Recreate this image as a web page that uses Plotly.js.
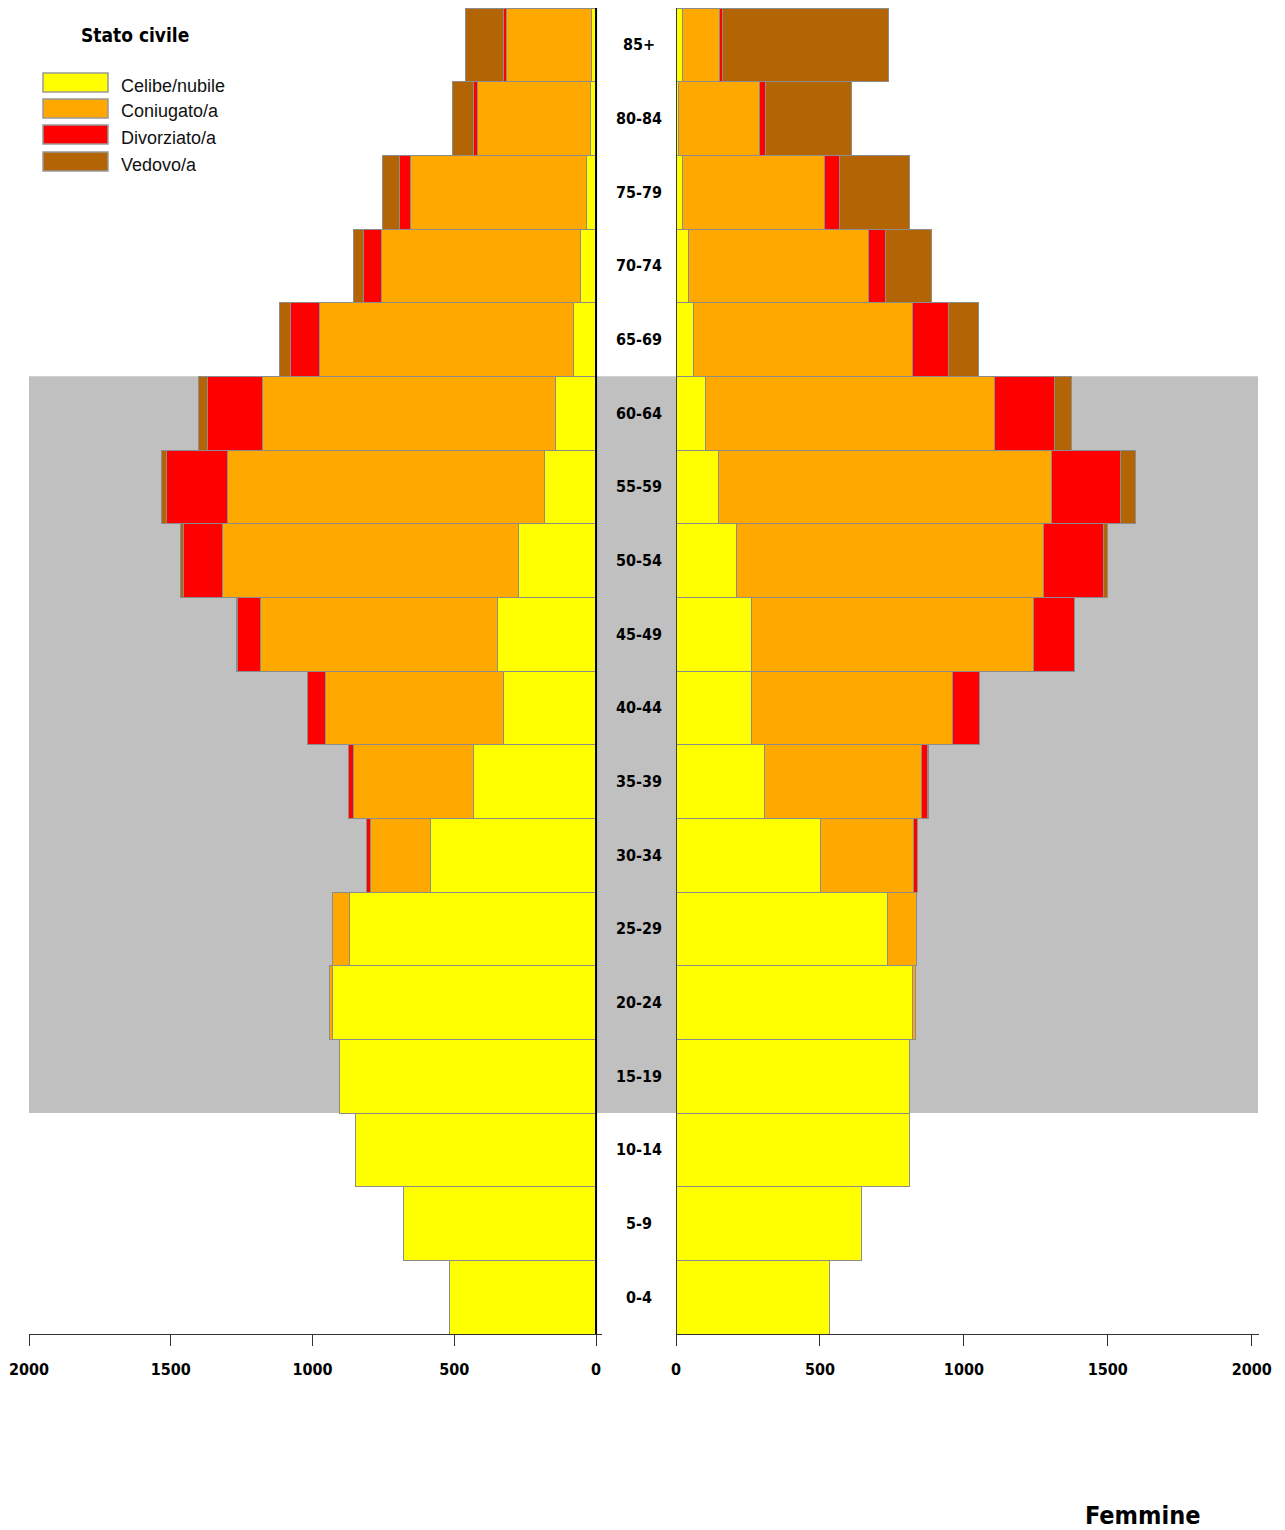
<!DOCTYPE html>
<html>
<head>
<meta charset="utf-8">
<script src="https://cdn.plot.ly/plotly-3.0.1.min.js"></script>
<style>html,body{margin:0;padding:0;background:#fff}#chart{width:1285px;height:1530px}</style>
</head>
<body>
<div id="chart"></div>
<script>
// ---- data ----
const ages = ['0-4','5-9','10-14','15-19','20-24','25-29','30-34','35-39','40-44','45-49','50-54','55-59','60-64','65-69','70-74','75-79','80-84','85+'];
const seriesNames = ['Celibe/nubile','Coniugato/a','Divorziato/a','Vedovo/a'];
const seriesColors = ['#FFFF00','#FFA800','#FF0000','#B36404'];
const maschiCelibi     = [516, 678, 847, 905, 930, 871, 584, 431, 326, 348, 273, 182, 142, 79, 55, 33, 19, 15];
const maschiConiugati  = [0, 0, 0, 0, 11, 57, 212, 426, 630, 837, 1044, 1117, 1035, 895, 702, 620, 400, 300];
const maschiDivorziati = [0, 0, 0, 0, 0, 3, 12, 16, 62, 81, 138, 216, 194, 103, 62, 40, 12, 12];
const maschiVedovi     = [0, 0, 0, 0, 0, 0, 1, 1, 0, 2, 9, 17, 32, 38, 38, 61, 75, 133];
const femmineNubili     = [533, 643, 812, 812, 823, 733, 501, 307, 263, 263, 209, 147, 102, 61, 44, 22, 10, 22];
const femmineConiugate  = [0, 0, 0, 0, 8, 101, 323, 544, 698, 979, 1067, 1158, 1006, 760, 624, 494, 279, 130];
const femmineDivorziate = [0, 0, 0, 0, 0, 2, 14, 24, 93, 141, 208, 238, 208, 127, 61, 53, 23, 8];
const femmineVedove     = [0, 0, 0, 0, 0, 0, 0, 1, 0, 2, 16, 52, 58, 103, 160, 241, 298, 579];
const tickValues = [0, 500, 1000, 1500, 2000];
const highlightFrom = '15-19', highlightTo = '60-64';
const legendTitle = 'Stato civile';
const rightTitle = 'Femmine';

// ---- layout helpers ----
const W = 1285, H = 1530;
const px = v => v / W;
const py = v => 1 - v / H;
const condensed = '"DejaVu Sans Condensed", "Liberation Sans Narrow", "Arial Narrow", sans-serif';
const regular = '"Liberation Sans", Arial, sans-serif';
const border = {color: '#8c8c8c', width: 1};

const maschi = [maschiCelibi, maschiConiugati, maschiDivorziati, maschiVedovi];
const femmine = [femmineNubili, femmineConiugate, femmineDivorziate, femmineVedove];

const traces = [];
maschi.forEach((vals, i) => traces.push({
  type: 'bar', orientation: 'h', x: vals, y: ages, xaxis: 'x', yaxis: 'y',
  name: seriesNames[i], marker: {color: seriesColors[i], line: border},
  showlegend: false, hoverinfo: 'x+y+name'
}));
femmine.forEach((vals, i) => traces.push({
  type: 'bar', orientation: 'h', x: vals, y: ages, xaxis: 'x2', yaxis: 'y',
  name: seriesNames[i], marker: {color: seriesColors[i], line: border},
  showlegend: false, hoverinfo: 'x+y+name'
}));

const tickFont = {family: condensed, size: 16, color: '#000', weight: 'bold'};
const axisCommon = {
  tickvals: tickValues, ticktext: tickValues.map(String),
  ticks: 'outside', ticklen: 11, tickcolor: '#333', tickwidth: 1,
  showline: true, linecolor: '#333', linewidth: 1,
  showgrid: false, zeroline: false, tickfont: tickFont, fixedrange: true,
  anchor: 'y', ticklabelstandoff: 10
};

const iFrom = ages.indexOf(highlightFrom), iTo = ages.indexOf(highlightTo);

const shapes = [
  {type: 'rect', layer: 'below', xref: 'paper', yref: 'y',
   x0: px(29), x1: px(1258), y0: iFrom - 0.5, y1: iTo + 0.5,
   fillcolor: '#C0C0C0', line: {width: 0}},
  {type: 'line', xref: 'x', yref: 'y', x0: 0, x1: 0, y0: -0.5, y1: ages.length - 0.5,
   line: {color: '#000', width: 2}},
  {type: 'line', xref: 'x2', yref: 'y', x0: 0, x1: 0, y0: -0.5, y1: ages.length - 0.5,
   line: {color: '#222', width: 1.5}}
];

const annotations = ages.map(a => ({
  xref: 'paper', yref: 'y', x: px(639), y: a, text: a, showarrow: false,
  xanchor: 'center', yanchor: 'middle', font: {family: condensed, size: 16, color: '#000', weight: 'bold'}
}));

// custom legend
annotations.push({xref: 'paper', yref: 'paper', x: px(135), y: py(35), text: legendTitle,
  showarrow: false, xanchor: 'center', yanchor: 'middle',
  font: {family: condensed, size: 19, color: '#000', weight: 'bold'}});
const legRows = [82.5, 108.5, 134.5, 161.5];
seriesNames.forEach((n, i) => {
  shapes.push({type: 'rect', xref: 'paper', yref: 'paper',
    x0: px(43), x1: px(108), y0: py(legRows[i] - 9.5), y1: py(legRows[i] + 9.5),
    fillcolor: seriesColors[i], line: {color: '#999', width: 1.5}});
  annotations.push({xref: 'paper', yref: 'paper', x: px(119), y: py(legRows[i] + 3), text: n,
    showarrow: false, xanchor: 'left', yanchor: 'middle',
    font: {family: regular, size: 18, color: '#111'}});
});

annotations.push({xref: 'paper', yref: 'paper', x: px(1142), y: py(1515), text: rightTitle,
  showarrow: false, xanchor: 'center', yanchor: 'middle',
  font: {family: condensed, size: 25, color: '#000', weight: 'bold'}});

const layout = {
  width: W, height: H,
  margin: {l: 0, r: 0, t: 0, b: 0},
  paper_bgcolor: '#fff', plot_bgcolor: 'rgba(0,0,0,0)',
  barmode: 'stack', bargap: 0,
  showlegend: false,
  xaxis: Object.assign({}, axisCommon, {domain: [px(29), px(602)], range: [2000, -21]}),
  xaxis2: Object.assign({}, axisCommon, {domain: [px(676), px(1259)], range: [0, 2025]}),
  yaxis: {type: 'category', categoryorder: 'array', categoryarray: ages,
    domain: [1 - 1334 / H, 1 - 8 / H], range: [-0.5, ages.length - 0.5],
    showticklabels: false, showgrid: false, zeroline: false, showline: false, ticks: '', fixedrange: true},
  shapes: shapes,
  annotations: annotations
};

Plotly.newPlot('chart', traces, layout, {displayModeBar: false, staticPlot: true});
</script>
</body>
</html>
